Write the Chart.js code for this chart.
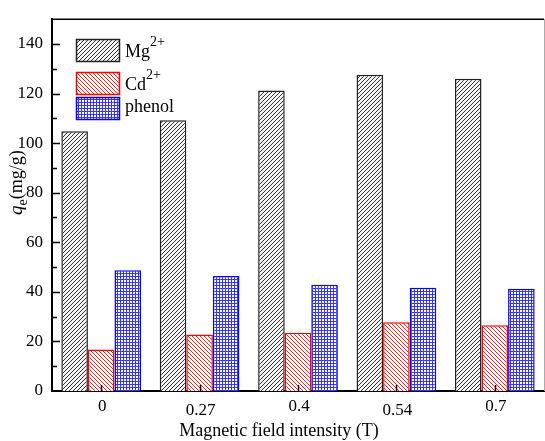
<!DOCTYPE html>
<html>
<head>
<meta charset="utf-8">
<script src="https://cdn.jsdelivr.net/npm/chart.js@4.4.1/dist/chart.umd.min.js"></script>
<style>
  html, body { margin: 0; padding: 0; background: #fff; }
  #wrap { width: 545px; height: 441px; }
</style>
</head>
<body>
<div id="wrap"><canvas id="chart" width="545" height="441"></canvas></div>
<script>
// values
const categories = ['0', '0.27', '0.4', '0.54', '0.7'];
const mgValues = [104.8, 109.2, 121.2, 127.6, 126.0];
const cdValues = [16.7, 22.8, 23.5, 27.7, 26.5];
const phenolValues = [48.7, 46.4, 42.9, 41.7, 41.3];
const seriesNames = [['Mg', '2+'], ['Cd', '2+'], ['phenol', '']];

const FONT = '"Liberation Serif", "Times New Roman", serif';

function hatch(dir, color, bg) {
    const c = document.createElement('canvas');
    c.width = 4; c.height = 4;
    const g = c.getContext('2d');
    g.fillStyle = bg;
    g.fillRect(0, 0, 4, 4);
    g.strokeStyle = color;
    g.lineWidth = 1;
    const lines = dir === '/' ? [[-1, 1, 1, -1], [0, 4, 4, 0], [3, 5, 5, 3]]
        : [[-1, 3, 1, 5], [0, 0, 4, 4], [3, -1, 5, 1]];
    lines.forEach(l => {
        g.beginPath(); g.moveTo(l[0], l[1]); g.lineTo(l[2], l[3]); g.stroke();
    });
    return g.createPattern(c, 'repeat');
}

function cross(color, bg) {
    const c = document.createElement('canvas');
    c.width = 3; c.height = 3;
    const g = c.getContext('2d');
    g.fillStyle = color;
    g.fillRect(0, 0, 3, 3);
    g.fillStyle = bg;
    g.fillRect(1, 1, 2, 2);
    return g.createPattern(c, 'repeat');
}

const patterns = [
    hatch('/', '#333', '#f4f4f4'),
    hatch('\\', '#ff2020', '#fff'),
    cross('#3535ff', '#fff')
];
const borders = ['#222', '#ff0000', '#0000ff'];

function supText(ctx, base, sup, x, y, size) {
    ctx.font = size + 'px ' + FONT;
    ctx.fillText(base, x, y);
    const w = ctx.measureText(base).width;
    if (sup) {
        ctx.font = '14px ' + FONT;
        ctx.fillText(sup, x + w, y - 11);
    }
}

const decorPlugin = {
    id: 'decor',
    afterDatasetsDraw(chart) {
        const ctx = chart.ctx;
        const a = chart.chartArea;
        const ys = chart.scales.y, xs = chart.scales.x;
        ctx.save();
        ctx.strokeStyle = '#000';
        ctx.lineWidth = 1.5;
        // inward ticks on y
        for (let v = 10; v < 150; v += 10) {
            const py = Math.round(ys.getPixelForValue(v)) + 0.5;
            const len = v % 20 === 0 ? 8 : 5;
            ctx.beginPath(); ctx.moveTo(a.left, py); ctx.lineTo(a.left + len, py); ctx.stroke();
        }
        // inward ticks on x
        categories.forEach((c, i) => {
            const px = Math.round(xs.getPixelForValue(i)) + 0.5;
            ctx.beginPath(); ctx.moveTo(px, a.bottom); ctx.lineTo(px, a.bottom - 6); ctx.stroke();
        });
        // frame top / right
        ctx.beginPath(); ctx.moveTo(a.left, a.top); ctx.lineTo(a.right, a.top); ctx.stroke();
        ctx.strokeStyle = '#aaa';
        ctx.lineWidth = 1;
        ctx.beginPath(); ctx.moveTo(a.right + 0.5, a.top); ctx.lineTo(a.right + 0.5, a.bottom); ctx.stroke();
        ctx.restore();
    },
    afterDraw(chart) {
        const ctx = chart.ctx;
        const xs = chart.scales.x;
        ctx.save();
        ctx.fillStyle = '#000';
        ctx.textBaseline = 'alphabetic';

        // x tick labels, staggered as in the original
        ctx.textAlign = 'center';
        ctx.font = '17px ' + FONT;
        categories.forEach((c, i) => {
            ctx.fillText(c, xs.getPixelForValue(i) + 1, i % 2 ? 415 : 411);
        });
        ctx.font = '18px ' + FONT;
        ctx.fillText('Magnetic field intensity (T)', 279, 436);

        // y title q_e(mg/g)
        ctx.textAlign = 'left';
        ctx.translate(22, 215);
        ctx.rotate(-Math.PI / 2);
        ctx.font = 'italic 19px ' + FONT;
        ctx.fillText('q', 0, 0);
        let w = ctx.measureText('q').width;
        ctx.font = '14px ' + FONT;
        ctx.fillText('e', w, 5);
        w += ctx.measureText('e').width;
        ctx.font = '18px ' + FONT;
        ctx.fillText('(mg/g)', w, 0);
        ctx.setTransform(1, 0, 0, 1, 0, 0);

        // legend
        const boxes = [39, 72, 97];
        const baselines = [57, 90, 112];
        seriesNames.forEach((n, i) => {
            ctx.fillStyle = patterns[i];
            ctx.fillRect(76, boxes[i], 43, 22);
            ctx.strokeStyle = borders[i];
            ctx.lineWidth = 1.5;
            ctx.strokeRect(76.5, boxes[i] + 0.5, 43, 22);
            ctx.fillStyle = '#000';
            supText(ctx, n[0], n[1], 125, baselines[i], 18);
        });
        ctx.restore();
    }
};

const datasets = [mgValues, cdValues, phenolValues].map((vals, i) => ({
    label: seriesNames[i].join(''),
    data: vals,
    backgroundColor: patterns[i],
    borderColor: borders[i],
    borderWidth: 1.5,
    borderSkipped: 'bottom'
}));

new Chart(document.getElementById('chart'), {
    type: 'bar',
    data: { labels: categories, datasets: datasets },
    options: {
        responsive: false,
        animation: false,
        devicePixelRatio: 1,
        categoryPercentage: 0.81,
        barPercentage: 1.0,
        layout: { padding: { top: 16, right: 1, left: 0, bottom: 0 } },
        plugins: {
            legend: { display: false },
            tooltip: { enabled: false }
        },
        scales: {
            x: {
                grid: { display: false, drawTicks: false },
                border: { display: true, color: '#000', width: 2 },
                ticks: { display: false },
                afterFit(s) { s.height = 50; }
            },
            y: {
                min: 0,
                max: 150,
                grid: { display: false, drawTicks: false },
                border: { display: true, color: '#000', width: 2 },
                ticks: {
                    stepSize: 20,
                    includeBounds: false,
                    padding: 9,
                    color: '#000',
                    font: { family: FONT, size: 17 }
                },
                afterFit(s) { s.width = 52; }
            }
        }
    },
    plugins: [decorPlugin]
});
</script>
</body>
</html>
